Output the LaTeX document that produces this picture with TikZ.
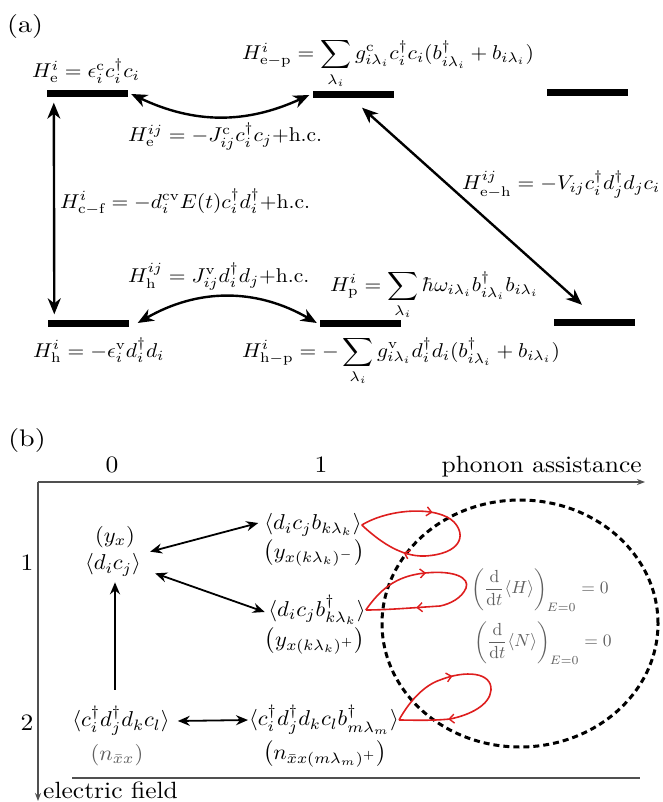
\documentclass[tikz,border=0pt]{standalone}
\usepackage{fontspec}
\usepackage{amsmath}
\usepackage{graphicx}
\usetikzlibrary{arrows.meta,decorations.markings,calc}
\newcommand{\SA}[1]{\scalebox{2.15}[2.0]{#1}}
\newcommand{\SB}[1]{\scalebox{2.25}[2.15]{#1}}
\newcommand{\ST}[1]{\scalebox{2.55}[2.35]{#1}}
\newcommand{\SG}[1]{\scalebox{1.75}[1.75]{#1}}
\newcommand{\SL}[1]{\scalebox{2.8}[2.4]{#1}}
\definecolor{loopred}{RGB}{222,30,30}
\definecolor{axgray}{RGB}{80,80,80}
\definecolor{eqgray}{RGB}{95,95,95}
\begin{document}
\begin{tikzpicture}[x=1pt,y=1pt,
  bar/.style={fill=black,inner sep=0pt,minimum width=81pt,minimum height=7pt},
  aarrow/.style={line width=2.4pt,{Stealth[length=16pt,width=13pt,inset=5pt]}-{Stealth[length=16pt,width=13pt,inset=5pt]}},
  barrow/.style={line width=1.8pt,{Stealth[length=12pt,width=10pt,inset=4pt]}-{Stealth[length=12pt,width=10pt,inset=4pt]}},
  barrowone/.style={line width=1.8pt,-{Stealth[length=12pt,width=10pt,inset=4pt]}},
  lbl/.style={inner sep=0pt,anchor=base west},
  txt/.style={inner sep=0pt},
  loopline/.style={draw=loopred,line width=1.6pt,postaction={decorate},
    decoration={markings,
      mark=at position 0.32 with {\arrow[loopred]{Straight Barb[length=5pt,width=9pt,line width=1.4pt]}},
      mark=at position 0.78 with {\arrow[loopred]{Straight Barb[length=5pt,width=9pt,line width=1.4pt]}}}},
  axis/.style={draw=axgray,line width=1.3pt,-{Stealth[length=8pt,width=6pt]}}
]
\useasboundingbox (0,0) rectangle (662,-802);

% ---------------- (a) ----------------
\node[txt] (la) at (25,-27) {\SL{(a)}};

\node[bar] (be)  at (87.5,-94) {};
\node[bar] (bep) at (353,-95) {};
\node[bar] (btr) at (587.5,-93) {};
\node[bar] (bh)  at (88,-323) {};
\node[bar] (bhp) at (360.5,-323) {};
\node[bar] (bbr) at (594.5,-322) {};

\draw[aarrow] ([xshift=3pt]be.east) to[bend right=25] ([xshift=-3pt]bep.west);
\draw[aarrow] ([xshift=9pt]bh.east) to[bend left=30] ([xshift=-3pt]bhp.west);
\draw[aarrow] ([xshift=7pt,yshift=-5pt]be.south west) -- ([xshift=7pt,yshift=5pt]bh.north west);
\draw[aarrow] ([xshift=9pt,yshift=-9pt]bep.south) -- ([xshift=-12.5pt,yshift=13.5pt]bbr.north);

\node[lbl] (hE) at (32,-78) {\SA{$H^i_{\mathrm{e}}=\epsilon^{\mathrm{c}}_i c^\dagger_i c_i$}};
\node[lbl] (hEP) at (242,-60) {\SA{$H^i_{\mathrm{e-p}}=\displaystyle\sum_{\lambda_i} g^{\mathrm{c}}_{i\lambda_i} c^\dagger_i c_i (b^\dagger_{i\lambda_i}+b_{i\lambda_i})$}};
\node[lbl] (hEij) at (128,-142) {\SA{$H^{ij}_{\mathrm{e}}=-J^{\mathrm{c}}_{ij} c^\dagger_i c_j$+h.c.}};
\node[lbl] (hCF) at (60,-208) {\SA{$H^i_{\mathrm{c-f}}=-d^{\mathrm{cv}}_i E(t) c^\dagger_i d^\dagger_i$+h.c.}};
\node[lbl] (hEH) at (462,-190) {\SA{$H^{ij}_{\mathrm{e-h}}=-V_{ij} c^\dagger_i d^\dagger_j d_j c_i$}};
\node[lbl] (hHij) at (128,-282) {\SA{$H^{ij}_{\mathrm{h}}=J^{\mathrm{v}}_{ij} d^\dagger_i d_j$+h.c.}};
\node[lbl] (hP) at (330,-291) {\SA{$H^i_{\mathrm{p}}=\displaystyle\sum_{\lambda_i}\hbar\omega_{i\lambda_i} b^\dagger_{i\lambda_i} b_{i\lambda_i}$}};
\node[lbl] (hH) at (33,-357) {\SA{$H^i_{\mathrm{h}}=-\epsilon^{\mathrm{v}}_i d^\dagger_i d_i$}};
\node[lbl] (hHP) at (242,-357) {\SA{$H^i_{\mathrm{h-p}}=-\displaystyle\sum_{\lambda_i} g^{\mathrm{v}}_{i\lambda_i} d^\dagger_i d_i (b^\dagger_{i\lambda_i}+b_{i\lambda_i})$}};

% ---------------- (b) ----------------
\node[txt] (lb) at (27,-440) {\SL{(b)}};

\coordinate (O) at (38,-482);
\coordinate (Xe) at (645,-482);
\coordinate (Ye) at (38,-801);
\draw[axis] (O) -- (Xe);
\draw[axis] (O) -- (Ye);

\node[txt,anchor=base] (n0) at (112,-472) {\ST{0}};
\node[txt,anchor=base] (n1) at (321,-472) {\ST{1}};
\node[txt,anchor=base east] (pa) at (642,-472) {\ST{phonon assistance}};
\node[txt,anchor=base] (r1) at (27,-570) {\ST{1}};
\node[txt,anchor=base] (r2) at (27,-730) {\ST{2}};
\node[txt,anchor=base west] (ef) at (43,-798) {\ST{electric field}};

\node[txt] (yx) at (115,-537) {\SB{$(y_x)$}};
\node[txt] (dc) at (113,-565) {\SB{$\langle d_i c_j\rangle$}};
\node[txt] (dcb) at (313,-525) {\SB{$\langle d_i c_j b_{k\lambda_k}\rangle$}};
\node[txt] (ym) at (314,-553) {\SB{$\left(y_{x(k\lambda_k)^-}\right)$}};
\node[txt] (dcbd) at (317,-610) {\SB{$\langle d_i c_j b^\dagger_{k\lambda_k}\rangle$}};
\node[txt] (yp) at (315,-641) {\SB{$\left(y_{x(k\lambda_k)^+}\right)$}};
\node[txt] (cddc) at (121,-721) {\SB{$\langle c^\dagger_i d^\dagger_j d_k c_l\rangle$}};
\node[txt,text=eqgray] (nxx) at (117,-755) {\SB{$(n_{\bar{x}x})$}};
\node[txt] (cddcb) at (324,-720) {\SB{$\langle c^\dagger_i d^\dagger_j d_k c_l b^\dagger_{m\lambda_m}\rangle$}};
\node[txt] (nxxp) at (325,-754) {\SB{$\left(n_{\bar{x}x(m\lambda_m)^+}\right)$}};

\node[txt,text=eqgray] (eqH) at (540,-590) {\SG{$\left(\dfrac{\mathrm{d}}{\mathrm{d}t}\langle H\rangle\right)_{E=0}=0$}};
\node[txt,text=eqgray] (eqN) at (543,-643) {\SG{$\left(\dfrac{\mathrm{d}}{\mathrm{d}t}\langle N\rangle\right)_{E=0}=0$}};

\draw[barrow] ([shift={(9pt,2pt)}]dc.north east) -- ([shift={(-6pt,2pt)}]dcb.west);
\draw[barrow] ([shift={(14pt,3pt)}]dc.south east) -- ([shift={(-3.5pt,-2pt)}]dcbd.west);
\draw[barrowone] ([shift={(-6pt,16pt)}]cddc.north) -- ([shift={(2pt,-6pt)}]dc.south);
\draw[barrow] ([xshift=8pt]cddc.east) -- ([xshift=-1pt]cddcb.west);

\coordinate (bl) at (72,-778);
\coordinate (br) at (640,-778);
\draw[line width=2pt,draw=axgray] (bl) -- (br);

\draw[line width=3pt,dash pattern=on 6pt off 4pt] (520,-623.5) ellipse [x radius=138, y radius=123.5];

\draw[loopline] (dcb.east) .. controls (390,-508) and (438,-506) .. (454,-522)
  .. controls (467,-536) and (460,-554) .. (425,-556)
  .. controls (400,-557) and (378,-540) .. (dcb.east);
\draw[loopline] (dcbd.east) .. controls (380,-590) and (395,-576) .. (425,-573)
  .. controls (455,-570) and (470,-578) .. (466,-588)
  .. controls (462,-598) and (450,-604) .. (440,-606)
  .. controls (410,-608) and (385,-610) .. (dcbd.east);
\draw[loopline] (cddcb.east) .. controls (410,-700) and (425,-685) .. (440,-680)
  .. controls (465,-670) and (492,-672) .. (491,-690)
  .. controls (490,-705) and (470,-715) .. (450,-719)
  .. controls (430,-721) and (410,-720) .. (cddcb.east);
\end{tikzpicture}
\end{document}
